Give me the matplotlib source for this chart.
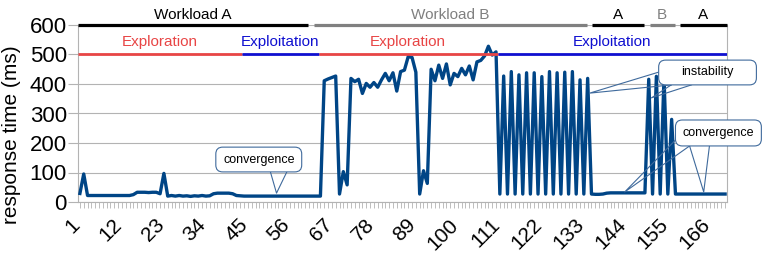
import numpy as np
import matplotlib
matplotlib.use('Agg')
import matplotlib.pyplot as plt
import matplotlib.transforms as mtransforms
from matplotlib.patches import FancyBboxPatch
matplotlib.rcParams['font.family'] = ['Liberation Sans', 'DejaVu Sans']

# response time per iteration (ms), iterations 1..170
resp = ([29, 95, 22, 22, 22, 22, 22, 22, 22, 22, 22, 22, 22, 22, 25, 33, 33, 33, 32, 33,
         33, 28, 97, 20, 22, 20, 22, 20, 21, 19, 21, 20, 22, 20, 21, 28, 30, 30, 30, 30,
         28, 22, 21] +
        [20] * 21 +
        [411, 417, 422, 427, 27, 103, 58, 419, 408, 416, 368, 402, 389, 405, 389, 414,
         436, 411, 438, 376, 442, 447, 493, 490, 440, 27, 106, 63, 450, 411, 464, 419,
         468, 397, 436, 425, 453, 431, 461, 414, 475, 480, 495, 528, 498, 509,
         27, 427, 27, 442, 27, 431, 27, 438, 27, 438, 27, 425, 27, 442, 27, 438,
         27, 440, 27, 442, 27, 414, 27, 419, 27, 26, 26, 27, 30] +
        [31] * 10 +
        [416, 27, 426, 27, 424, 27, 280, 27] +
        [27] * 13)
iters = np.arange(1, len(resp) + 1)

# workload phases (first, last iteration)
workloads = ['Workload A', 'Workload B', 'A', 'B', 'A']
wl_start = [1, 62, 135, 150, 158]
wl_end = [61, 134, 149, 157, 170]
wl_color = ['black', '#808080', 'black', '#808080', 'black']

# tuner modes (first, last iteration)
modes = ['Exploration', 'Exploitation', 'Exploration', 'Exploitation']
md_start = [1, 44, 64, 111]
md_end = [43, 63, 110, 170]
md_color = ['#e84545', '#1010d0', '#e84545', '#1010d0']

grey = '#b3b3b3'
callout = '#3f6a9c'

fig = plt.figure(figsize=(7.62, 2.54), dpi=100)
ax = fig.add_axes([78 / 762, 1 - 202 / 254, 649 / 762, 177 / 254])

ax.plot(iters, resp, color='#004586', lw=2.4, zorder=3)

ax.set_xlim(0.5, 170.5)
ax.set_ylim(0, 600)
ax.set_yticks(range(0, 601, 100))
ax.yaxis.grid(True, color=grey, lw=0.8)
ax.set_axisbelow(True)

ax.set_xticks(iters)
ax.set_xticklabels([str(i) if (i - 1) % 11 == 0 else '' for i in iters])
ax.tick_params(axis='x', length=4, width=0.6, color=grey, labelsize=15,
               labelrotation=45, pad=5.5)
shift = mtransforms.ScaledTranslation(4 / 100, 0, fig.dpi_scale_trans)
for lab in ax.get_xticklabels():
    lab.set_ha('right')
    lab.set_va('top')
    lab.set_transform(lab.get_transform() + shift)
ax.tick_params(axis='y', length=7, width=0.8, color=grey, labelsize=16, pad=1)

for s in ['left', 'bottom', 'right']:
    ax.spines[s].set_color(grey)
    ax.spines[s].set_linewidth(0.8)
ax.spines['top'].set_visible(False)

# workload bars on top
for name, s, e, c in zip(workloads, wl_start, wl_end, wl_color):
    x0 = s - 0.5 + 0.7 if s > 1 else 0.5
    x1 = e + 0.5 - 0.7 if e < 170 else 170.5
    ax.plot([x0, x1], [600, 600], color=c, lw=2.3, solid_capstyle='butt',
            clip_on=False, zorder=4)
    ax.text((x0 + x1) / 2, 620, name, color=c, ha='center', va='baseline',
            fontsize=11, clip_on=False)

# mode bars
for name, s, e, c in zip(modes, md_start, md_end, md_color):
    x0 = s - 0.5
    x1 = e + 0.5
    ax.plot([x0, x1], [500, 500], color=c, lw=2.0, solid_capstyle='butt', zorder=4)
    ax.text((x0 + x1) / 2, 530, name, color=c, ha='center', va='baseline', fontsize=11)


def add_callout(text, x0, x1, y0, y1, wedges):
    for tip, b1, b2 in wedges:
        ax.plot([b1[0], tip[0], b2[0]], [b1[1], tip[1], b2[1]], color=callout,
                lw=0.8, clip_on=False, zorder=5)
    box = FancyBboxPatch((x0, y0), x1 - x0, y1 - y0,
                         boxstyle='round,pad=0,rounding_size=1.8',
                         mutation_aspect=12.95, fc='white', ec=callout, lw=0.8,
                         clip_on=False, zorder=6)
    ax.add_patch(box)
    ax.text((x0 + x1) / 2, (y0 + y1) / 2, text, ha='center', va='center',
            fontsize=9, zorder=7, clip_on=False)


add_callout('convergence', 36.6, 59.1, 102, 186,
            [((52.5, 30), (50.9, 102), (55.2, 102))])
add_callout('instability', 152.6, 178.2, 397, 481,
            [((134.5, 369), (152.8, 441), (155.9, 397)),
             ((150.7, 353), (155.9, 397), (161.2, 397))])
add_callout('convergence', 157.0, 179.5, 190, 278,
            [((143.7, 34), (157.0, 210), (160.7, 190)),
             ((164.4, 34), (160.7, 190), (165.9, 190))])

fig.text(2 / 762, 1 - 135 / 254, 'response time (ms)', rotation=90,
         ha='left', va='center', fontsize=15)

fig.savefig('out.png', dpi=100)
